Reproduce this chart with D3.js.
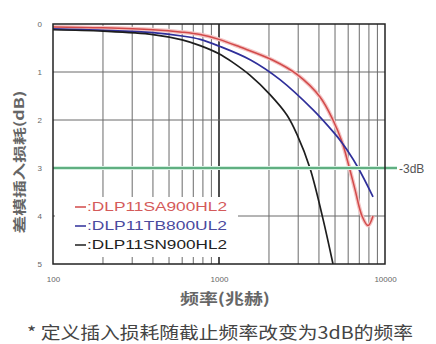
<!DOCTYPE html>
<html>
<head>
<meta charset="utf-8">
<script src="https://cdn.jsdelivr.net/npm/d3@7"></script>
<style>
  body { margin: 0; background: #fff; }
  text { font-family: "Liberation Sans", Arial, sans-serif; }
  .cjk { font-family: "Noto Sans CJK SC", sans-serif; }
</style>
</head>
<body>
<svg id="chart" width="436" height="344"></svg>
<script>
// frequency (MHz) / insertion loss (dB)
const redFreq   = [100, 200, 400, 600, 770, 1000, 1340, 2100, 2950, 4060, 4860, 5500, 6000, 6600, 7270, 7900, 8470];
const redLoss   = [0.06, 0.08, 0.12, 0.17, 0.22, 0.32, 0.48, 0.75, 1.05, 1.52, 2.0, 2.45, 2.9, 3.45, 4.0, 4.2, 4.0];
const blueFreq  = [100, 200, 400, 600, 770, 1000, 1550, 2330, 3690, 4660, 5360, 5900, 6900, 8470];
const blueLoss  = [0.1, 0.13, 0.18, 0.25, 0.32, 0.46, 0.75, 1.16, 1.79, 2.17, 2.42, 2.62, 3.0, 3.6];
const blackFreq = [100, 200, 400, 600, 770, 1000, 1210, 1540, 2030, 2570, 2950, 3530, 4230, 4860];
const blackLoss = [0.12, 0.15, 0.22, 0.33, 0.45, 0.62, 0.8, 1.07, 1.47, 1.9, 2.3, 3.0, 4.06, 5.0];

const xTicks = [100, 1000, 10000];
const yTicks = [0, 1, 2, 3, 4, 5];
const minorX = [200, 300, 400, 500, 600, 700, 800, 900, 2000, 3000, 4000, 5000, 6000, 7000, 8000, 9000];
const refLevel = 3;

const legendNames = ['DLP11SA900HL2', 'DLP11TB800UL2', 'DLP11SN900HL2'];
const colors = ['#d24a4a', '#2f2f9a', '#1e1e1e'];
const legendTextColors = ['#d45a5a', '#4a4a9e', '#222'];

const margin = {top: 24, right: 51, bottom: 80, left: 53};
const width = 436 - margin.left - margin.right;
const height = 344 - margin.top - margin.bottom;

const svg = d3.select('#chart');
const g = svg.append('g').attr('transform', `translate(${margin.left},${margin.top})`);

const x = d3.scaleLog().domain([100, 10000]).range([0, width]);
const y = d3.scaleLinear().domain([0, 5]).range([0, height]);

// grid
g.selectAll('.minor').data(minorX).enter().append('line')
    .attr('x1', d => x(d)).attr('x2', d => x(d))
    .attr('y1', 0).attr('y2', height)
    .attr('stroke', '#6a6a6a').attr('stroke-width', 1);

g.append('line')
    .attr('x1', x(1000)).attr('x2', x(1000))
    .attr('y1', 0).attr('y2', height)
    .attr('stroke', '#222').attr('stroke-width', 1.6);

g.selectAll('.hgrid').data([1, 2, 4]).enter().append('line')
    .attr('x1', 0).attr('x2', width)
    .attr('y1', d => y(d)).attr('y2', d => y(d))
    .attr('stroke', '#6a6a6a').attr('stroke-width', 1);

// clip for curves
svg.append('defs').append('clipPath').attr('id', 'plotclip')
  .append('rect').attr('x', 0).attr('y', 0).attr('width', width).attr('height', height);

const line = d3.line()
    .x(d => x(d[0]))
    .y(d => y(d[1]))
    .curve(d3.curveCatmullRom.alpha(0.5));

const series = [
  d3.zip(redFreq, redLoss),
  d3.zip(blueFreq, blueLoss),
  d3.zip(blackFreq, blackLoss)
];

const curves = g.append('g').attr('clip-path', 'url(#plotclip)');

// soft halo like the original scan
curves.append('path').datum(series[0]).attr('d', line)
    .attr('fill', 'none').attr('stroke', '#f4c4c4').attr('stroke-width', 4);

series.forEach((s, i) => {
  curves.append('path').datum(s).attr('d', line)
      .attr('fill', 'none')
      .attr('stroke', colors[i])
      .attr('stroke-width', i === 0 ? 1.5 : 1.7);
});

// -3dB reference line
g.append('line')
    .attr('x1', 0).attr('x2', width + 12)
    .attr('y1', y(refLevel)).attr('y2', y(refLevel))
    .attr('stroke', '#d3efe0').attr('stroke-width', 4);
g.append('line')
    .attr('x1', 0).attr('x2', width + 12)
    .attr('y1', y(refLevel)).attr('y2', y(refLevel))
    .attr('stroke', '#3a9a62').attr('stroke-width', 1.6);
g.append('text')
    .attr('x', width + 14).attr('y', y(refLevel) + 4.5)
    .attr('font-size', 12).attr('fill', '#555')
    .text('-3dB');

// legend box
const lg = g.append('g');
lg.append('rect')
    .attr('x', 2).attr('y', 173).attr('width', 183).attr('height', 60)
    .attr('fill', '#fff');
legendNames.forEach((name, i) => {
  const ly = 187 + i * 19;
  lg.append('line')
      .attr('x1', 22).attr('x2', 33)
      .attr('y1', ly - 4).attr('y2', ly - 4)
      .attr('stroke', colors[i]).attr('stroke-width', 1.5);
  lg.append('text')
      .attr('x', 34).attr('y', ly)
      .attr('font-size', 13).attr('fill', legendTextColors[i])
      .attr('textLength', 140).attr('lengthAdjust', 'spacingAndGlyphs')
      .text(':' + name);
});

// plot frame
g.append('rect')
    .attr('width', width).attr('height', height)
    .attr('fill', 'none').attr('stroke', '#222').attr('stroke-width', 1.5);

// axes
const xAxis = g.append('g')
    .attr('transform', `translate(0,${height})`)
    .call(d3.axisBottom(x).tickValues(xTicks).tickFormat(d3.format('d')).tickSize(0).tickPadding(12));
xAxis.select('.domain').remove();
xAxis.selectAll('text').attr('font-size', 8).attr('fill', '#666')
    .style('font-family', '"Liberation Sans", Arial, sans-serif');

const yAxis = g.append('g')
    .call(d3.axisLeft(y).tickValues(yTicks).tickFormat(d3.format('d')).tickSize(0).tickPadding(11));
yAxis.select('.domain').remove();
yAxis.selectAll('text').attr('font-size', 8).attr('fill', '#666')
    .style('font-family', '"Liberation Sans", Arial, sans-serif');

// axis titles
svg.append('text').attr('class', 'cjk')
    .attr('transform', 'translate(24,162) rotate(-90)')
    .attr('text-anchor', 'middle')
    .attr('font-size', 13).attr('font-weight', 'bold').attr('fill', '#666')
    .attr('textLength', 143).attr('lengthAdjust', 'spacingAndGlyphs')
    .text('差模插入损耗(dB)');

svg.append('text').attr('class', 'cjk')
    .attr('x', 225).attr('y', 304)
    .attr('text-anchor', 'middle')
    .attr('font-size', 15).attr('font-weight', 'bold').attr('fill', '#666')
    .attr('textLength', 90).attr('lengthAdjust', 'spacingAndGlyphs')
    .text('频率(兆赫)');

svg.append('text').attr('class', 'cjk')
    .attr('x', 27).attr('y', 339)
    .attr('font-size', 17).attr('fill', '#444')
    .attr('textLength', 386).attr('lengthAdjust', 'spacingAndGlyphs')
    .text('* 定义插入损耗随截止频率改变为3dB的频率');
</script>
</body>
</html>
